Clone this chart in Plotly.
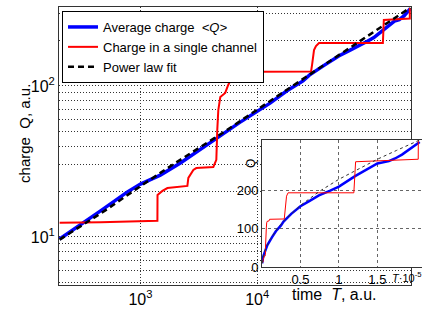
import plotly.graph_objects as go

# ---------------- data ----------------
time_avg = [203, 326, 455, 774, 1000, 1480, 2200, 4550, 7000, 12900, 18000, 24700,
            28000, 38000, 50000, 62000, 74000, 88000, 100000, 121000, 136000,
            150000, 165000, 173000, 182000, 191000, 200000, 205000]
q_avg = [9.7, 12.4, 14.9, 19.9, 22.4, 25.7, 30.9, 45.3, 57, 77, 93, 108,
         118, 138, 158, 172, 186, 198, 209, 236, 254,
         269, 275, 282, 292, 305, 318, 325]

time_single = [203, 455, 1397, 1400, 1542, 1702, 2524, 2572, 2838, 3010, 4210, 4467,
               4552, 4645, 4830, 5325, 5646, 6110, 6620, 9250, 9800, 28970, 29530,
               30690, 31900, 33880, 119400, 121700, 203100, 203200]
q_single = [12.4, 12.5, 12.8, 19.0, 20.2, 21.1, 21.8, 24.6, 27.8, 28.6, 29.1, 32.4,
            51.2, 69.3, 84.5, 89.9, 101.6, 114.8, 118.4, 120, 124, 124.8, 137.8,
            173, 184, 192.8, 192.8, 273.5, 280, 329]

time_fit = [203, 500, 1000, 2000, 5000, 10000, 20000, 30000, 50000, 75000, 100000,
            125000, 150000, 175000, 205000]
q_fit = [9.6, 15.0, 21.7, 31.0, 48.6, 70.0, 99.8, 123, 160, 197, 228,
         254, 280, 303, 330]

x_tick_vals = [1000, 10000]
x_tick_text = ["10<sup>3</sup>", "10<sup>4</sup>"]
y_tick_vals = [5, 6, 7, 8, 9, 10, 20, 30, 40, 50, 60, 70, 80, 90, 100, 200, 300]
y_tick_text = ["", "", "", "", "", "10<sup>1</sup>", "", "", "", "", "", "", "", "",
               "10<sup>2</sup>", "", ""]
inset_x_ticks = [0.5, 1, 1.5]
inset_x_text = ["0.5", "1", "1.5"]
inset_y_ticks = [0, 100, 200]
inset_scale = 1e5

FONT = "Liberation Sans, Arial, Helvetica, sans-serif"

fig = go.Figure()

# main plot
fig.add_trace(go.Scatter(x=time_avg, y=q_avg, mode="lines",
                         line=dict(color="#0000ff", width=3.5),
                         name="Average charge\u00a0\u00a0<i>&lt;Q&gt;</i>"))
fig.add_trace(go.Scatter(x=time_single, y=q_single, mode="lines",
                         line=dict(color="#ff0000", width=2),
                         name="Charge in a single channel"))
fig.add_trace(go.Scatter(x=time_fit, y=q_fit, mode="lines",
                         line=dict(color="#000000", width=2.5, dash="6px,4px"),
                         name="Power law fit"))

# inset (linear scale)
fig.add_trace(go.Scatter(x=[t / inset_scale for t in time_avg], y=q_avg, mode="lines",
                         line=dict(color="#0000ff", width=2.5), showlegend=False,
                         xaxis="x2", yaxis="y2"))
fig.add_trace(go.Scatter(x=[t / inset_scale for t in time_single], y=q_single, mode="lines",
                         line=dict(color="#ff0000", width=1), showlegend=False,
                         xaxis="x2", yaxis="y2"))
fig.add_trace(go.Scatter(x=[t / inset_scale for t in time_fit], y=q_fit, mode="lines",
                         line=dict(color="#333333", width=1, dash="dot"), showlegend=False,
                         xaxis="x2", yaxis="y2"))

grid_main = dict(showgrid=True, gridcolor="#333333", gridwidth=1, griddash="1px,2px")

fig.update_layout(
    width=422, height=320, autosize=False,
    margin=dict(l=59, r=0, t=7, b=35),
    paper_bgcolor="white", plot_bgcolor="white",
    font=dict(family=FONT, color="black"),
    xaxis=dict(type="log", range=[2.302, 5.318], domain=[0, 352 / 363],
               tickmode="array", tickvals=x_tick_vals, ticktext=x_tick_text,
               tickfont=dict(size=16), ticks="", showline=True, mirror=True,
               linecolor="#333333", linewidth=1, zeroline=False, **grid_main),
    yaxis=dict(type="log", range=[0.682, 2.523], domain=[0, 1],
               tickmode="array", tickvals=y_tick_vals, ticktext=y_tick_text,
               tickfont=dict(size=16), ticks="", showline=True, mirror=True,
               linecolor="#333333", linewidth=1, zeroline=False, **grid_main),
    xaxis2=dict(anchor="y2", domain=[0.5592, 1.0], range=[0, 2.08],
                tickmode="array", tickvals=inset_x_ticks, ticktext=inset_x_text,
                tickfont=dict(size=13), ticks="", showline=True, mirror=True,
                linecolor="#333333", linewidth=1, zeroline=False,
                showgrid=True, gridcolor="#666666", griddash="dot", gridwidth=1),
    yaxis2=dict(anchor="x2", domain=[0.0647, 0.5216], range=[0, 330],
                tickmode="array", tickvals=inset_y_ticks,
                tickfont=dict(size=13), ticks="", showline=True, mirror=True,
                linecolor="#333333", linewidth=1, zeroline=False,
                showgrid=True, gridcolor="#666666", griddash="dot", gridwidth=1),
    legend=dict(x=0.00826, y=0.9856, xanchor="left", yanchor="top",
                bgcolor="white", bordercolor="black", borderwidth=1,
                font=dict(size=13, family=FONT), tracegroupgap=0),
    showlegend=True,
    annotations=[
        dict(text="charge\u00a0\u00a0Q, a.u.", xref="paper", yref="paper",
             x=-0.0937, y=0.547, textangle=-90, showarrow=False,
             font=dict(size=15, family=FONT), xanchor="center", yanchor="middle"),
        dict(text="time\u00a0\u00a0<i>T</i>, a.u.", xref="paper", yref="paper",
             x=0.757, y=-0.0324, showarrow=False,
             font=dict(size=16, family=FONT), xanchor="center", yanchor="middle"),
        dict(text="<i>T</i>·10<sup>-5</sup>", xref="paper", yref="paper",
             x=0.9118, y=0.0288, showarrow=False,
             font=dict(size=11, family=FONT), xanchor="left", yanchor="middle"),
        dict(text="Q", xref="paper", yref="paper",
             x=0.529, y=0.435, textangle=-90, showarrow=False,
             font=dict(size=12, family=FONT), xanchor="center", yanchor="middle"),
    ],
)

fig.write_html("out.html")
